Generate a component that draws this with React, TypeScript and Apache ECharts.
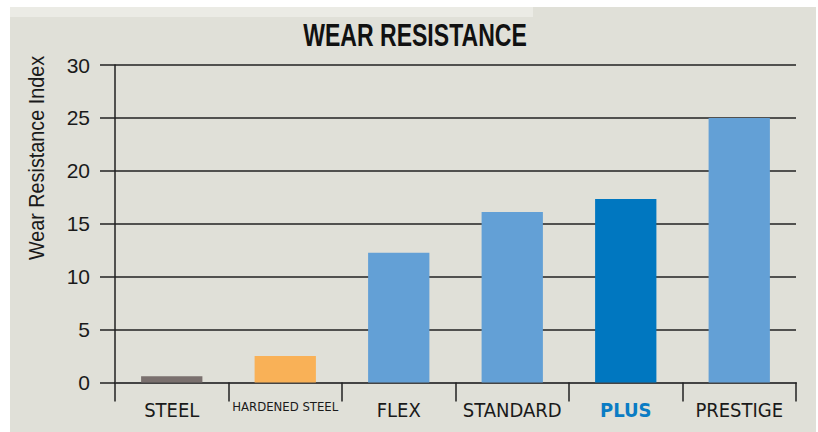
import React, { useEffect, useRef } from "react";
import * as echarts from "echarts";

const categories = ["STEEL", "HARDENED STEEL", "FLEX", "STANDARD", "PLUS", "PRESTIGE"];
const values = [0.6, 2.5, 12.25, 16.1, 17.35, 25.0];
const barColors = ["#7a706e", "#f9b157", "#63a0d6", "#63a0d6", "#0077c0", "#63a0d6"];
const yTicks = [0, 5, 10, 15, 20, 25, 30];

const COND = "'DejaVu Sans Condensed', 'Liberation Sans', sans-serif";
const SANS = "'Liberation Sans', Arial, sans-serif";

export default function App() {
  const ref = useRef<HTMLDivElement>(null);
  useEffect(() => {
    if (!ref.current) return;
    const chart = echarts.init(ref.current, undefined, { renderer: "svg" });
    chart.setOption({
      animation: false,
      backgroundColor: "#ffffff",
      graphic: [
        { type: "rect", z: -10, shape: { x: 10, y: 7, width: 806, height: 425 }, style: { fill: "#e0e0d8" } },
        { type: "rect", z: -9, shape: { x: 10, y: 7, width: 523, height: 10 }, style: { fill: "#ebebe5" } },
        {
          type: "text",
          x: 415,
          y: 35,
          scaleX: 0.72,
          style: {
            text: "WEAR RESISTANCE",
            fontFamily: SANS,
            fontWeight: "bold",
            fontSize: 32,
            fill: "#111111",
            textAlign: "center",
            textVerticalAlign: "middle",
          },
        },
        {
          type: "text",
          x: 36,
          y: 158,
          rotation: Math.PI / 2,
          scaleX: 0.9,
          style: {
            text: "Wear Resistance Index",
            fontFamily: SANS,
            fontSize: 22,
            fill: "#1a1a1a",
            textAlign: "center",
            textVerticalAlign: "middle",
          },
        },
      ],
      grid: { left: 115, right: 22, top: 65, bottom: 49.5, containLabel: false },
      xAxis: {
        type: "category",
        data: categories,
        axisLine: { show: true, lineStyle: { color: "#444444", width: 2 } },
        axisTick: { show: true, length: 19, lineStyle: { color: "#222222", width: 1.5 } },
        axisLabel: {
          interval: 0,
          margin: 17,
          fontFamily: COND,
          fontSize: 20,
          color: "#1a1a1a",
          formatter: (v: string) => (v === "HARDENED STEEL" ? "{s|" + v + "}" : v === "PLUS" ? "{p|" + v + "}" : v),
          rich: {
            s: { fontFamily: COND, fontSize: 13, color: "#1a1a1a" },
            p: { fontFamily: COND, fontSize: 20, fontWeight: "bold", color: "#0a7cc4" },
          },
        },
      },
      yAxis: {
        type: "value",
        min: yTicks[0],
        max: yTicks[yTicks.length - 1],
        interval: 5,
        axisLine: { show: true, lineStyle: { color: "#222222", width: 1.5 } },
        axisTick: { show: true, length: 15, lineStyle: { color: "#222222", width: 1.5 } },
        splitLine: { show: true, lineStyle: { color: "#222222", width: 1.5 } },
        axisLabel: { margin: 25, fontFamily: SANS, fontSize: 21, color: "#1a1a1a" },
      },
      series: [
        {
          type: "bar",
          barWidth: "54%",
          data: values.map((v, i) => ({ value: v, itemStyle: { color: barColors[i] } })),
          z: 3,
        },
      ],
    });
    return () => chart.dispose();
  }, []);
  return <div ref={ref} style={{ position: "absolute", left: 0, top: 0, width: 818, height: 432 }} />;
}
